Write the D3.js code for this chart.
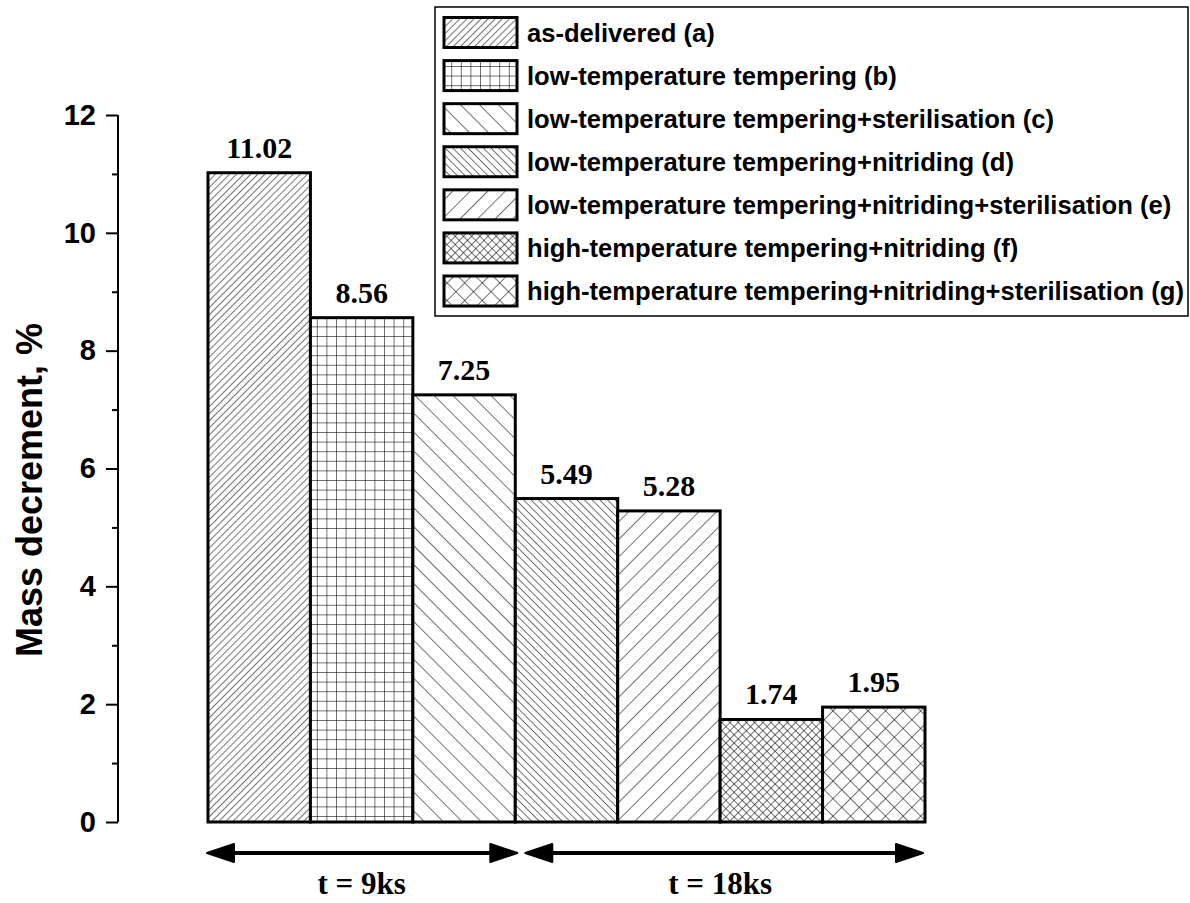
<!DOCTYPE html>
<html>
<head>
<meta charset="utf-8">
<script src="https://cdn.jsdelivr.net/npm/d3@7"></script>
<style>
  html, body { margin: 0; padding: 0; background: #fff; }
  svg { display: block; }
</style>
</head>
<body>
<svg id="chart" width="1190" height="903"></svg>
<script>
// ---- data ----
const categories = ["a", "b", "c", "d", "e", "f", "g"];
const values = [11.02, 8.56, 7.25, 5.49, 5.28, 1.74, 1.95];
const valueLabels = ["11.02", "8.56", "7.25", "5.49", "5.28", "1.74", "1.95"];
const legendLabels = [
  "as-delivered (a)",
  "low-temperature tempering (b)",
  "low-temperature tempering+sterilisation (c)",
  "low-temperature tempering+nitriding (d)",
  "low-temperature tempering+nitriding+sterilisation (e)",
  "high-temperature tempering+nitriding (f)",
  "high-temperature tempering+nitriding+sterilisation (g)"
];
const majorTicks = [0, 2, 4, 6, 8, 10, 12];
const minorTicks = [1, 3, 5, 7, 9, 11];
const groupLabels = ["t = 9ks", "t = 18ks"];
const groupFirst = ["a", "d"];
const groupLast = ["c", "g"];
const yTitle = "Mass decrement, %";

// ---- layout ----
const svg = d3.select("#chart");
const x = d3.scaleBand().domain(categories).range([208, 925]).padding(0);
const y = d3.scaleLinear().domain([0, 12]).range([822, 115]);
const axisX = 118;

// ---- patterns ----
const defs = svg.append("defs");
function linePattern(id, spacing, angle, cross) {
  const p = defs.append("pattern")
    .attr("id", id)
    .attr("patternUnits", "userSpaceOnUse")
    .attr("width", spacing).attr("height", spacing)
    .attr("patternTransform", `rotate(${angle})`);
  p.append("rect").attr("width", spacing).attr("height", spacing).attr("fill", "#fff");
  p.append("line").attr("x1", 0).attr("y1", 0).attr("x2", 0).attr("y2", spacing)
    .attr("stroke", "#000").attr("stroke-width", 1.1);
  if (cross) {
    p.append("line").attr("x1", 0).attr("y1", 0).attr("x2", spacing).attr("y2", 0)
      .attr("stroke", "#000").attr("stroke-width", 1.1);
  }
}
linePattern("pa", 5, 45, false);     // dense /
linePattern("pb", 9.6, 0, true);     // square grid
linePattern("pc", 13.4, -45, false); // wide \
linePattern("pd", 5.4, -45, false);  // dense \
linePattern("pe", 12.4, 45, false);  // wide /
linePattern("pf", 5.8, 45, true);    // dense cross
linePattern("pg", 12.4, 45, true);   // wide cross
const patternIds = ["pa", "pb", "pc", "pd", "pe", "pf", "pg"];

// ---- bars ----
const bars = svg.append("g");
bars.selectAll("rect")
  .data(categories)
  .join("rect")
  .attr("x", d => x(d))
  .attr("y", (d, i) => y(values[i]))
  .attr("width", x.bandwidth())
  .attr("height", (d, i) => y(0) - y(values[i]))
  .attr("fill", (d, i) => `url(#${patternIds[i]})`)
  .attr("stroke", "#000")
  .attr("stroke-width", 3);

svg.append("g").selectAll("text")
  .data(categories)
  .join("text")
  .attr("x", d => x(d) + x.bandwidth() / 2)
  .attr("y", (d, i) => y(values[i]) - 15)
  .attr("text-anchor", "middle")
  .attr("font-family", "'Liberation Serif', 'Times New Roman', serif")
  .attr("font-weight", "bold")
  .attr("font-size", 30)
  .text((d, i) => valueLabels[i]);

// ---- y axis ----
const axisG = svg.append("g")
  .attr("transform", `translate(${axisX},0)`)
  .call(d3.axisLeft(y).tickValues(majorTicks).tickSize(12).tickPadding(10).tickFormat(d3.format("d")));
axisG.select(".domain").attr("stroke-width", 2).attr("d", `M-0,${y(12)}H0V${y(0)}H-0`);
axisG.selectAll(".tick line").attr("stroke-width", 2);
axisG.selectAll(".tick text")
  .attr("font-family", "'Liberation Sans', Arial, sans-serif")
  .attr("font-weight", "bold")
  .attr("font-size", 29)
  .attr("fill", "#000");
const minorG = svg.append("g")
  .attr("transform", `translate(${axisX},0)`)
  .call(d3.axisLeft(y).tickValues(minorTicks).tickSize(6).tickFormat(""));
minorG.select(".domain").remove();
minorG.selectAll(".tick line").attr("stroke-width", 2);

svg.append("text")
  .attr("transform", `translate(42,490) rotate(-90)`)
  .attr("text-anchor", "middle")
  .attr("font-family", "'Liberation Sans', Arial, sans-serif")
  .attr("font-weight", "bold")
  .attr("font-size", 36)
  .text(yTitle);

// ---- group arrows ----
const arrowG = svg.append("g");
const arrowY = 853;
const headLen = 27, headHalf = 9;
const starts = [x(groupFirst[0]) - 1, x(groupFirst[1]) + 10];
const ends = [x(groupLast[0]) + x.bandwidth() + 2, x(groupLast[1]) + x.bandwidth() - 2];
groupLabels.forEach((lab, i) => {
  const x0 = starts[i], x1 = ends[i];
  arrowG.append("line")
    .attr("x1", x0 + headLen - 4).attr("x2", x1 - headLen + 4)
    .attr("y1", arrowY).attr("y2", arrowY)
    .attr("stroke", "#000").attr("stroke-width", 4);
  arrowG.append("path")
    .attr("d", `M${x0},${arrowY} L${x0 + headLen},${arrowY - headHalf} L${x0 + headLen},${arrowY + headHalf} Z`)
    .attr("fill", "#000").attr("stroke", "#000").attr("stroke-width", 2).attr("stroke-linejoin", "round");
  arrowG.append("path")
    .attr("d", `M${x1},${arrowY} L${x1 - headLen},${arrowY - headHalf} L${x1 - headLen},${arrowY + headHalf} Z`)
    .attr("fill", "#000").attr("stroke", "#000").attr("stroke-width", 2).attr("stroke-linejoin", "round");
  arrowG.append("text")
    .attr("x", (x(groupFirst[i]) + x(groupLast[i]) + x.bandwidth()) / 2)
    .attr("y", 894)
    .attr("text-anchor", "middle")
    .attr("font-family", "'Liberation Serif', 'Times New Roman', serif")
    .attr("font-weight", "bold")
    .attr("font-size", 31)
    .text(lab);
});

// ---- legend ----
const legend = svg.append("g");
legend.append("rect")
  .attr("x", 435).attr("y", 7).attr("width", 753).attr("height", 309)
  .attr("fill", "#fff").attr("stroke", "#000").attr("stroke-width", 1.5);
const rowY = d3.scaleLinear().domain([0, 6]).range([32.5, 291]);
const rows = legend.selectAll("g.row")
  .data(legendLabels)
  .join("g")
  .attr("class", "row")
  .attr("transform", (d, i) => `translate(0,${rowY(i)})`);
rows.append("rect")
  .attr("x", 444).attr("y", -15).attr("width", 73).attr("height", 30)
  .attr("fill", (d, i) => `url(#${patternIds[i]})`)
  .attr("stroke", "#000").attr("stroke-width", 3);
rows.append("text")
  .attr("x", 527).attr("y", 9)
  .attr("font-family", "'Liberation Sans', Arial, sans-serif")
  .attr("font-weight", "bold")
  .attr("font-size", 25.6)
  .text(d => d);
</script>
</body>
</html>
